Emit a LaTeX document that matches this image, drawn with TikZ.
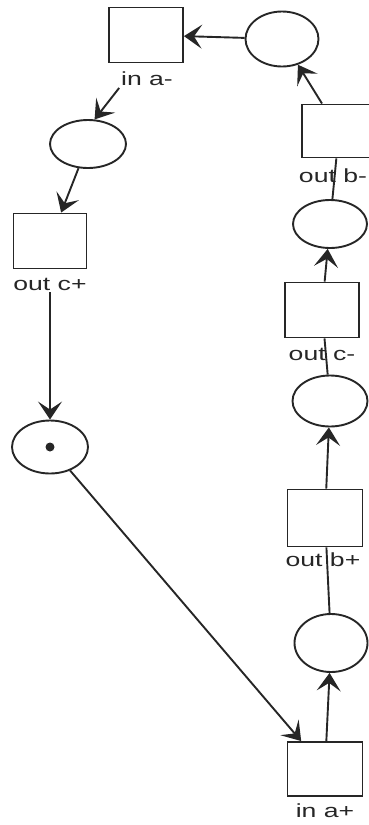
\documentclass[tikz,border=0pt]{standalone}
\usepackage{fontspec}
\setmainfont{Liberation Sans}
\usetikzlibrary{arrows.meta,shapes.geometric}
\newcommand{\lbl}[1]{\scalebox{1.4}[1]{#1}}
\begin{document}
\begin{tikzpicture}[x=1pt, y=-1pt, line width=1.9pt, color=black!85,
  >={Stealth[length=18pt,width=24pt,inset=8pt]},
  place/.style={ellipse, draw, inner sep=0pt, line width=1.9pt},
  trans/.style={rectangle, draw, inner sep=0pt, line width=1.9pt},
  tlabel/.style={inner sep=1pt, font=\fontsize{19}{22}\selectfont}]
\useasboundingbox (0,0) rectangle (369,825);
% places
\node[place, minimum width=76pt, minimum height=53pt] (p0) at (50,447){};
\node[circle, fill, inner sep=0pt, minimum size=9pt] (tok) at (p0){};
\node[place, minimum width=73pt, minimum height=58pt] (p1) at (331,643){};
\node[place, minimum width=75pt, minimum height=51pt] (p2) at (330,401){};
\node[place, minimum width=74pt, minimum height=48pt] (p3) at (330,224){};
\node[place, minimum width=73pt, minimum height=55pt] (p4) at (282,39){};
\node[place, minimum width=76pt, minimum height=48pt] (p5) at (88,144){};
% transitions
\node[trans, minimum width=75pt, minimum height=54pt] (t0) at (325,769){};
\node[trans, minimum width=75pt, minimum height=57pt] (t1) at (325,518){};
\node[trans, minimum width=74pt, minimum height=55pt] (t2) at (322,310){};
\node[trans, minimum width=74pt, minimum height=53pt] (t3) at (339,131){};
\node[trans, minimum width=74pt, minimum height=55pt] (t4) at (146,35){};
\node[trans, minimum width=73pt, minimum height=55pt] (t5) at (50,241){};
% labels
\node[tlabel] (l0) at (325,811){\lbl{in a+}};
\node[tlabel] (l1) at (323,560){\lbl{out b+}};
\node[tlabel] (l2) at (322,354){\lbl{out c-}};
\node[tlabel] (l3) at (333,176){\lbl{out b-}};
\node[tlabel] (l4) at (147,79){\lbl{in a-}};
\node[tlabel] (l5) at (50,284){\lbl{out c+}};
% arcs
\draw[->] (p0) -- (t0);
\draw[->] (t0) -- (p1);
\draw[] (p1) -- (t1);
\draw[->] (t1) -- (p2);
\draw[] (p2) -- (t2);
\draw[->] (t2) -- (p3);
\draw[] (p3) -- (t3);
\draw[->] (t3) -- (p4);
\draw[->] (p4) -- (t4);
\draw[->] (l4.south west) -- (p5.75);
\draw[->] (p5) -- (t5);
\draw[->] (l5) -- (p0);
\end{tikzpicture}
\end{document}
